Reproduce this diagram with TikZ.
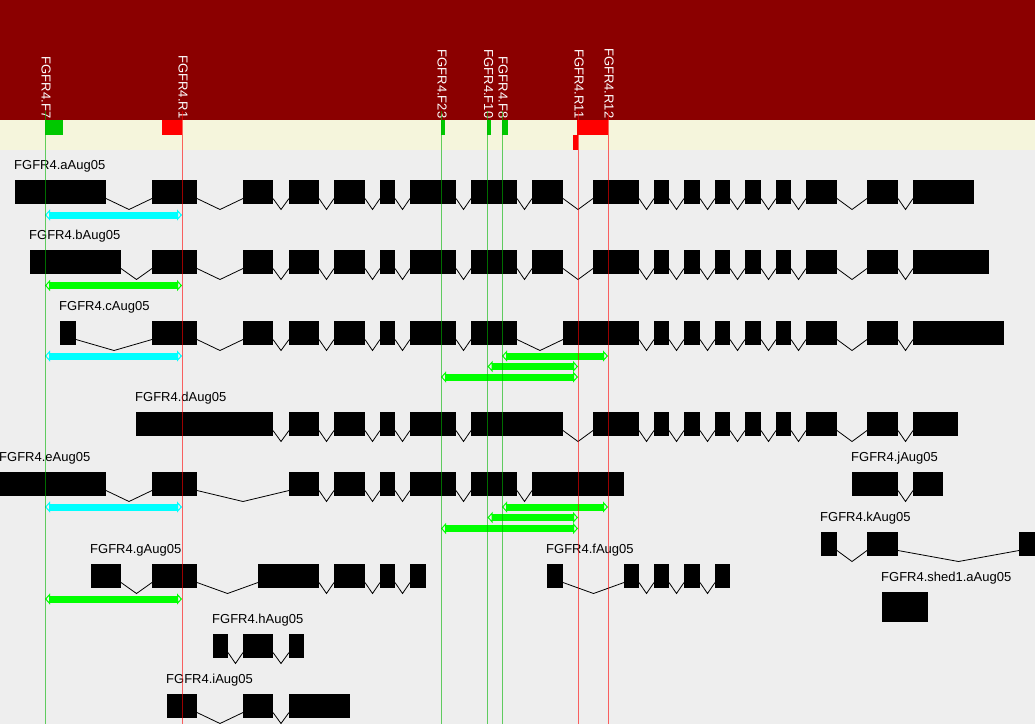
\documentclass[tikz,border=0pt]{standalone}
\usepackage{fontspec}
\setmainfont{Liberation Sans}
\usepackage{xcolor}
\usepackage{tikz}
\usetikzlibrary{arrows.meta,calc}

\definecolor{bggray}{HTML}{EEEEEE}
\definecolor{headred}{HTML}{8B0000}
\definecolor{bandbeige}{HTML}{F5F5DC}
\definecolor{markgreen}{HTML}{00C800}
\definecolor{markred}{HTML}{FF0000}
\definecolor{ampcyan}{HTML}{00FFFF}
\definecolor{ampgreen}{HTML}{00FF00}
\definecolor{linegreen}{HTML}{00B400}
\definecolor{linered}{HTML}{FF0000}

% one transcript: name, label, top, exon height, list of exon start/end
\newcommand\drawtranscript[5]{%
  \foreach \s/\e [count=\i, remember=\i as \j (initially 0)] in {#5} {
    \node[exon, minimum width={(\e-\s)*1pt}, minimum height=#4pt, anchor=north west] (#1\i) at (\s,#3) {};
    \ifnum\i>1
      \draw[intron] ($(#1\j.south east)+(0pt,5.5pt)$)
        -- ($(#1\j.south east)!0.5!(#1\i.south west)+(0pt,-5.5pt)$)
        -- ($(#1\i.south west)+(0pt,5.5pt)$);
    \fi
  }
  \node[genename, anchor=base west] (#1name) at ($(#11.north west)+(-1pt,10.5pt)$) {#2};
}

\begin{document}
\begin{tikzpicture}[x=1pt, y=-1pt]
  % Define styles
  \tikzstyle{exon}=[rectangle, fill=black, draw=none, inner sep=0pt, outer sep=0pt]
  \tikzstyle{intron}=[black, line width=0.8pt]
  \tikzstyle{genename}=[inner sep=0pt, font=\fontsize{13}{15}\selectfont]
  \tikzstyle{primername}=[inner sep=0pt, text=white, rotate=-90, anchor=east, font=\fontsize{13}{15}\selectfont]
  \tikzstyle{fwdmark}=[rectangle, fill=markgreen, inner sep=0pt, outer sep=0pt, minimum height=15pt]
  \tikzstyle{revmark}=[rectangle, fill=markred, inner sep=0pt, outer sep=0pt, minimum height=15pt]
  \tikzstyle{fwdline}=[draw=linegreen, draw opacity=0.6, line width=1pt]
  \tikzstyle{revline}=[draw=linered, draw opacity=0.6, line width=1pt]
  \tikzstyle{amplicon}=[line width=7pt,
    {Triangle[open, length=5pt, width=11pt, line width=1pt]}-{Triangle[open, length=5pt, width=11pt, line width=1pt]}]

  % Background and header
  \useasboundingbox (0,0) rectangle (1035,724);
  \fill[bggray] (0,0) rectangle (1035,724);
  \fill[headred] (0,0) rectangle (1035,120);
  \fill[bandbeige] (0,120) rectangle (1035,150);

  % Primers
  \coordinate (F7)  at (45,111);
  \coordinate (R1)  at (182,111);
  \coordinate (F23) at (441,111);
  \coordinate (F10) at (487.5,111);
  \coordinate (F8)  at (502,111);
  \coordinate (R11) at (578,111);
  \coordinate (R12) at (608,111);

  \node[fwdmark, minimum width=18pt, anchor=north west] (F7box)  at (45,120) {};
  \node[revmark, minimum width=20pt, anchor=north east] (R1box)  at (182,120) {};
  \node[fwdmark, minimum width=4pt,  anchor=north west] (F23box) at (441,120) {};
  \node[fwdmark, minimum width=4pt,  anchor=north west] (F10box) at (487,120) {};
  \node[fwdmark, minimum width=6pt,  anchor=north west] (F8box)  at (502,120) {};
  \node[revmark, minimum width=20pt, anchor=north west] (R11box) at (577,120) {};
  \node[revmark, minimum width=20pt, anchor=north east] (R12box) at (608,120) {};
  \node[revmark, minimum width=5pt,  anchor=north west] (R11low) at (573,135) {};

  \node[primername] (F7name)  at (46,118.5)    {FGFR4.F7};
  \node[primername] (R1name)  at (183,118.5)   {FGFR4.R1};
  \node[primername] (F23name) at (442,118.5)   {FGFR4.F23};
  \node[primername] (F10name) at (488.5,118.5) {FGFR4.F10};
  \node[primername] (F8name)  at (503,118.5)   {FGFR4.F8};
  \node[primername] (R11name) at (579,118.5)   {FGFR4.R11};
  \node[primername] (R12name) at (609,118.5)   {FGFR4.R12};

  % Transcripts
  \drawtranscript{a}{FGFR4.aAug05}{180}{24}{15/106,152/197,243/273,289/319,334/365,380/395,410/456,471/517,532/563,593/639,654/669,684/700,715/730,745/761,776/791,806/837,867/898,913/974}
  \drawtranscript{b}{FGFR4.bAug05}{250}{24}{30/121,152/197,243/273,289/319,334/365,380/395,410/456,471/517,532/563,593/639,654/669,684/700,715/730,745/761,776/791,806/837,867/898,913/989}
  \drawtranscript{c}{FGFR4.cAug05}{321}{24}{60/76,152/197,243/273,289/319,334/365,380/395,410/456,471/517,563/639,654/669,684/700,715/730,745/761,776/791,806/837,867/898,913/1004}
  \drawtranscript{d}{FGFR4.dAug05}{412}{24}{136/273,289/319,334/365,380/395,410/456,471/563,593/639,654/669,684/700,715/730,745/761,776/791,806/837,867/898,913/958}
  \drawtranscript{e}{FGFR4.eAug05}{472}{24}{0/106,152/197,289/319,334/365,380/395,410/456,471/517,532/624}
  \drawtranscript{j}{FGFR4.jAug05}{472}{24}{852/898,913/943}
  \drawtranscript{k}{FGFR4.kAug05}{532}{24}{821/837,867/898,1019/1035}
  \drawtranscript{g}{FGFR4.gAug05}{564}{24}{91/121,152/197,258/319,334/365,380/395,410/426}
  \drawtranscript{f}{FGFR4.fAug05}{564}{24}{547/563,624/639,654/669,684/700,715/730}
  \drawtranscript{s}{FGFR4.shed1.aAug05}{592}{30}{882/928}
  \drawtranscript{h}{FGFR4.hAug05}{634}{24}{213/228,243/273,289/304}
  \drawtranscript{i}{FGFR4.iAug05}{694}{24}{167/197,243/273,289/350}

  % Amplicons
  \draw[amplicon, ampcyan]  (F7 |- 0,215)   -- (R1 |- 0,215);
  \draw[amplicon, ampgreen] (F7 |- 0,285.5) -- (R1 |- 0,285.5);
  \draw[amplicon, ampcyan]  (F7 |- 0,356)   -- (R1 |- 0,356);
  \draw[amplicon, ampgreen] (F8 |- 0,356)   -- (R12 |- 0,356);
  \draw[amplicon, ampgreen] (F10 |- 0,366.5) -- (R11 |- 0,366.5);
  \draw[amplicon, ampgreen] (F23 |- 0,377)  -- (R11 |- 0,377);
  \draw[amplicon, ampcyan]  (F7 |- 0,507)   -- (R1 |- 0,507);
  \draw[amplicon, ampgreen] (F8 |- 0,507)   -- (R12 |- 0,507);
  \draw[amplicon, ampgreen] (F10 |- 0,517.5) -- (R11 |- 0,517.5);
  \draw[amplicon, ampgreen] (F23 |- 0,528.5) -- (R11 |- 0,528.5);
  \draw[amplicon, ampgreen] (F7 |- 0,599)   -- (R1 |- 0,599);

  % Primer lines
  \draw[fwdline] (F7)  -- (F7 |- 0,724);
  \draw[revline] (R1)  -- (R1 |- 0,724);
  \draw[fwdline] (F23) -- (F23 |- 0,724);
  \draw[fwdline] (F10) -- (F10 |- 0,724);
  \draw[fwdline] (F8)  -- (F8 |- 0,724);
  \draw[revline] (R11) -- (R11 |- 0,724);
  \draw[revline] (R12) -- (R12 |- 0,724);
\end{tikzpicture}
\end{document}
